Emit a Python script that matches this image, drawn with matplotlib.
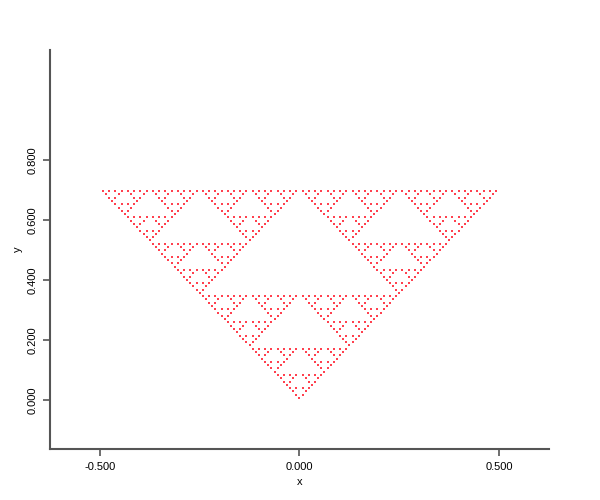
import itertools

import matplotlib
import matplotlib.pyplot as plt
import numpy as np

matplotlib.use("Agg")

# corners of the triangle
corner_x = [-0.5, 0.5, 0.0]
corner_y = [0.7, 0.7, 0.0]
depth = 6

x_ticks = [-0.5, 0.0, 0.5]
y_ticks = [0.0, 0.2, 0.4, 0.6, 0.8]
x_lim = (-0.625, 0.625)
y_lim = (-0.163, 1.167)


def sierpinski_points(cx, cy, depth):
    cx = np.asarray(cx, dtype=float)
    cy = np.asarray(cy, dtype=float)
    gx, gy = cx.mean(), cy.mean()
    xs, ys = [], []
    for addr in itertools.product(range(3), repeat=depth):
        x, y = gx, gy
        for a in addr:
            x = 0.5 * (x + cx[a])
            y = 0.5 * (y + cy[a])
        xs.append(x)
        ys.append(y)
    return np.array(xs), np.array(ys)


def main():
    plt.rcParams["font.family"] = ["Liberation Sans", "DejaVu Sans"]
    px, py = sierpinski_points(corner_x, corner_y, depth)

    fig = plt.figure(figsize=(6, 5), dpi=100)
    ax = fig.add_axes([0.0833, 0.102, 0.8317, 0.798])
    ax.scatter(px, py, s=0.8, marker="s", c="#ff2030", alpha=0.85, linewidths=0)

    ax.set_xlim(*x_lim)
    ax.set_ylim(*y_lim)
    ax.set_xticks(x_ticks)
    ax.set_yticks(y_ticks)
    ax.set_xticklabels([f"{v:.3f}" for v in x_ticks], fontsize=8)
    ax.set_yticklabels([f"{v:.3f}" for v in y_ticks], fontsize=8, rotation=90, va="center")

    for side in ("top", "right"):
        ax.spines[side].set_visible(False)
    for side in ("left", "bottom"):
        ax.spines[side].set_color("#555555")
        ax.spines[side].set_linewidth(1.5)
    ax.tick_params(colors="#555555", labelcolor="black", length=5, width=1.2, pad=4)

    ax.set_xlabel("x", fontsize=8, labelpad=4)
    ax.set_ylabel("y", fontsize=8, labelpad=3)

    fig.savefig("out.png", dpi=100)


if __name__ == "__main__":
    main()
